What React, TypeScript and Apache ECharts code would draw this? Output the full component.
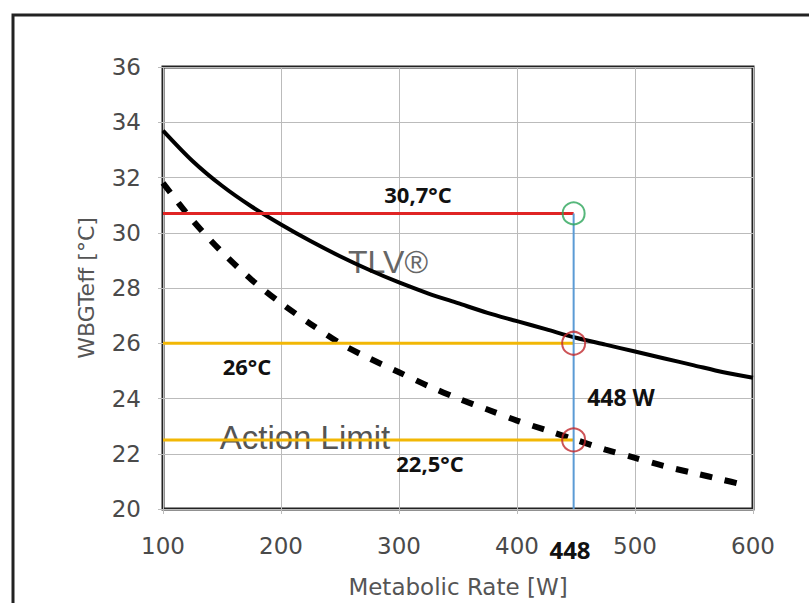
import React, { useEffect, useRef } from "react";
import * as echarts from "echarts";

// Metabolic rate [W]
const tlvX = [100, 125, 150, 175, 200, 225, 250, 275, 300, 325, 350, 375, 400, 425, 450, 475, 500, 525, 550, 575, 600];
// WBGTeff TLV [°C]
const tlvY = [33.7, 32.6, 31.7, 30.95, 30.3, 29.7, 29.15, 28.65, 28.2, 27.8, 27.45, 27.1, 26.8, 26.5, 26.2, 25.95, 25.7, 25.45, 25.2, 24.95, 24.75];
const alX = [100, 125, 150, 175, 200, 225, 250, 275, 300, 325, 350, 375, 400, 425, 450, 475, 500, 525, 550, 575, 590];
// WBGTeff Action Limit [°C]
const alY = [31.8, 30.45, 29.3, 28.3, 27.45, 26.7, 26.0, 25.45, 24.95, 24.45, 24.0, 23.6, 23.2, 22.85, 22.5, 22.15, 21.85, 21.55, 21.3, 21.05, 20.9];

const workRate = 448;
const tlvAtRate = 30.7;
const tlvAtPoint = 26;
const alAtPoint = 22.5;
const xMin = 100;
const yMin = 20;

const xTicks = [100, 200, 300, 400, 500, 600];
const yTicks = [20, 22, 24, 26, 28, 30, 32, 34, 36];

export default function App() {
  const ref = useRef<HTMLDivElement>(null);
  useEffect(() => {
    document.body.style.margin = "0";
    const chart = echarts.init(ref.current!, null, { renderer: "svg" });
    const axisFont = "DejaVu Sans";
    const bigFont = "Liberation Sans";
    const annot = "Open Sans";
    chart.setOption({
      animation: false,
      backgroundColor: "#ffffff",
      grid: {
        left: 163, right: 56, top: 67, bottom: 92,
        show: true, borderColor: "#222", borderWidth: 3,
      },
      xAxis: {
        type: "value", min: xTicks[0], max: xTicks[xTicks.length - 1], interval: 100,
        name: "Metabolic Rate [W]", nameLocation: "middle", nameGap: 66,
        nameTextStyle: { fontFamily: axisFont, fontSize: 23, color: "#555" },
        axisLine: { show: false },
        axisTick: { show: true, length: 5, lineStyle: { color: "#bbb" } },
        axisLabel: { fontFamily: axisFont, fontSize: 23, color: "#4a4a4a", margin: 25 },
        splitLine: { show: true, lineStyle: { color: "#bbb", width: 1 } },
      },
      yAxis: {
        type: "value", min: yTicks[0], max: yTicks[yTicks.length - 1], interval: 2,
        name: "WBGTeff [°C]", nameLocation: "middle", nameGap: 66,
        nameTextStyle: { fontFamily: axisFont, fontSize: 22, color: "#555" },
        axisLine: { show: false },
        axisTick: { show: true, length: 5, lineStyle: { color: "#bbb" } },
        axisLabel: { fontFamily: axisFont, fontSize: 23, color: "#4a4a4a", margin: 22 },
        splitLine: { show: true, lineStyle: { color: "#bbb", width: 1 } },
      },
      series: [
        {
          type: "line", name: "TLV", smooth: 0.3, showSymbol: false, z: 3,
          data: tlvX.map((x, i) => [x, tlvY[i]]),
          lineStyle: { color: "#000", width: 4 },
        },
        {
          type: "line", name: "Action Limit", smooth: 0.3, showSymbol: false, z: 3,
          data: alX.map((x, i) => [x, alY[i]]),
          lineStyle: { color: "#000", width: 6, type: [12, 13] },
        },
        {
          type: "line", showSymbol: false, z: 4,
          data: [[xMin, tlvAtRate], [workRate, tlvAtRate]],
          lineStyle: { color: "#e02424", width: 3 },
        },
        {
          type: "line", showSymbol: false, z: 4,
          data: [[xMin, tlvAtPoint], [workRate, tlvAtPoint]],
          lineStyle: { color: "#f2b705", width: 3 },
        },
        {
          type: "line", showSymbol: false, z: 4,
          data: [[xMin, alAtPoint], [workRate, alAtPoint]],
          lineStyle: { color: "#f2b705", width: 3 },
        },
        {
          type: "line", showSymbol: false, z: 4,
          data: [[workRate, yMin], [workRate, tlvAtRate]],
          lineStyle: { color: "#5b9bd5", width: 2 },
        },
        {
          type: "scatter", z: 6, symbol: "circle", symbolSize: 22,
          data: [[workRate, tlvAtRate]],
          itemStyle: { color: "rgba(0,0,0,0)", borderColor: "#2ca55a", borderWidth: 2 },
        },
        {
          type: "scatter", z: 6, symbol: "circle", symbolSize: 23,
          data: [[workRate, tlvAtPoint], [workRate, alAtPoint]],
          itemStyle: { color: "rgba(0,0,0,0)", borderColor: "#c0282d", borderWidth: 2 },
        },
      ],
      graphic: [
        {
          type: "rect", z: 100, silent: true,
          shape: { x: 13, y: 15, width: 900, height: 700 },
          style: { fill: "none", stroke: "#222", lineWidth: 3 },
        },
        { type: "text", x: 388, y: 262, z: 2, style: { text: "TLV®", fontFamily: bigFont, fontSize: 32, fill: "#666", textAlign: "center", textVerticalAlign: "middle" } },
        { type: "text", x: 305, y: 437, z: 2, style: { text: "Action Limit", fontFamily: bigFont, fontSize: 33, fill: "#555", textAlign: "center", textVerticalAlign: "middle" } },
        { type: "text", x: 418, y: 194, z: 10, style: { text: "30,7°C", fontFamily: annot, fontWeight: "bold", fontSize: 22, fill: "#111", textAlign: "center", textVerticalAlign: "middle" } },
        { type: "text", x: 247, y: 366, z: 10, style: { text: "26°C", fontFamily: annot, fontWeight: "bold", fontSize: 22, fill: "#111", textAlign: "center", textVerticalAlign: "middle" } },
        { type: "text", x: 430, y: 463, z: 10, style: { text: "22,5°C", fontFamily: annot, fontWeight: "bold", fontSize: 22, fill: "#111", textAlign: "center", textVerticalAlign: "middle" } },
        { type: "text", x: 621, y: 397, z: 10, style: { text: "448 W", fontFamily: annot, fontWeight: "bold", fontSize: 23, fill: "#111", textAlign: "center", textVerticalAlign: "middle" } },
        { type: "text", x: 570, y: 549, z: 10, style: { text: String(workRate), fontFamily: annot, fontWeight: "bold", fontSize: 24, fill: "#111", textAlign: "center", textVerticalAlign: "middle" } },
      ],
    });
    return () => chart.dispose();
  }, []);
  return <div ref={ref} style={{ width: 809, height: 603 }} />;
}
